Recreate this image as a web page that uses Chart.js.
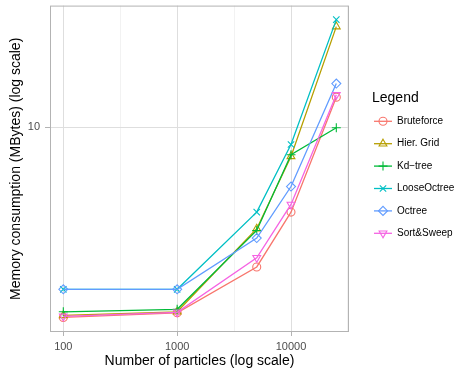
<!DOCTYPE html>
<html>
<head>
<meta charset="utf-8">
<script src="https://cdn.jsdelivr.net/npm/chart.js@4.4.1/dist/chart.umd.min.js"></script>
<style>
  html, body { margin: 0; padding: 0; background: #fff; }
  #wrap { width: 458px; height: 368px; position: relative; }
</style>
</head>
<body>
<div id="wrap"><canvas id="memChart" width="458" height="368"></canvas></div>
<script>
// data
var particles = [100, 1000, 5000, 10000, 25000];
var bruteforce = [4.01, 4.10, 5.11, 6.65, 11.55];
var hierGrid = [4.05, 4.12, 6.14, 8.69, 16.21];
var kdTree = [4.12, 4.17, 6.09, 8.76, 9.97];
var looseOctree = [4.59, 4.59, 6.65, 9.20, 16.76];
var octree = [4.59, 4.59, 5.87, 7.52, 12.33];
var sortSweep = [4.03, 4.11, 5.34, 6.90, 11.68];

var seriesNames = ["Bruteforce", "Hier. Grid", "Kd\u2212tree", "LooseOctree", "Octree", "Sort&Sweep"];
var seriesValues = [bruteforce, hierGrid, kdTree, looseOctree, octree, sortSweep];

var xMajorTicks = [100, 1000, 10000];
var xMinorTicks = [316.23, 3162.3, 31623];
var yMajorTicks = [10];

// ggplot hue palette + shapes 1..6
var colors = ["#F8766D", "#B79F00", "#00BA38", "#00BFC4", "#619CFF", "#F564E3"];
var shapes = ["circle", "triangle", "cross", "crossRot", "rectRot", "triangle"];
var rotations = [0, 0, 0, 0, 0, 180];
var radii = [4, 4.5, 4.5, 4.5, 4.5, 4.5];

var datasets = seriesNames.map(function (name, i) {
  return {
    label: name,
    data: particles.map(function (p, j) { return {x: p, y: seriesValues[i][j]}; }),
    borderColor: colors[i],
    backgroundColor: "rgba(0,0,0,0)",
    borderWidth: 1.3,
    pointStyle: shapes[i],
    pointRotation: rotations[i],
    pointRadius: radii[i],
    pointBorderWidth: 1.1,
    pointBorderColor: colors[i],
    pointBackgroundColor: "rgba(0,0,0,0)",
    tension: 0,
    order: seriesNames.length - i
  };
});

function isMajor(v, list) {
  return list.some(function (m) { return Math.abs(m - v) / m < 1e-6; });
}

// grey panel border like theme_light
var panelBorder = {
  id: "panelBorder",
  afterDraw: function (chart) {
    var a = chart.chartArea, ctx = chart.ctx;
    ctx.save();
    ctx.strokeStyle = "#b3b3b3";
    ctx.lineWidth = 1;
    ctx.strokeRect(a.left + 0.5, a.top + 0.5, a.right - a.left - 1, a.bottom - a.top - 1);
    ctx.restore();
  }
};

// ggplot style legend: line + point keys
var ggLegend = {
  id: "ggLegend",
  afterDraw: function (chart) {
    var ctx = chart.ctx;
    var x0 = 372, titleY = 98.5, rowY = 121.3, step = 22.4;
    ctx.save();
    ctx.fillStyle = "#000";
    ctx.textBaseline = "middle";
    ctx.textAlign = "left";
    ctx.font = "14px 'Liberation Sans', Arial, sans-serif";
    ctx.fillText("Legend", x0, titleY);
    chart.data.datasets.forEach(function (ds, i) {
      var y = rowY + i * step;
      ctx.strokeStyle = ds.borderColor;
      ctx.lineWidth = 1.3;
      ctx.beginPath();
      ctx.moveTo(374, y);
      ctx.lineTo(392, y);
      ctx.stroke();
      ctx.lineWidth = ds.pointBorderWidth;
      ctx.fillStyle = "rgba(0,0,0,0)";
      Chart.helpers.drawPoint(ctx, {
        pointStyle: ds.pointStyle,
        rotation: ds.pointRotation,
        radius: ds.pointRadius,
        borderWidth: ds.pointBorderWidth
      }, 383, y);
      ctx.fillStyle = "#000";
      ctx.font = "10px 'Liberation Sans', Arial, sans-serif";
      ctx.fillText(ds.label, 397, y);
    });
    ctx.restore();
  }
};

new Chart(document.getElementById("memChart").getContext("2d"), {
  type: "line",
  data: { datasets: datasets },
  plugins: [panelBorder, ggLegend],
  options: {
    responsive: false,
    animation: false,
    layout: { padding: { left: 8, right: 109, top: 5, bottom: 0 } },
    plugins: { legend: { display: false }, tooltip: { enabled: false } },
    scales: {
      x: {
        type: "logarithmic",
        min: 76.4,
        max: 32318,
        border: { display: false },
        afterBuildTicks: function (scale) {
          scale.ticks = xMajorTicks.concat(xMinorTicks).sort(function (a, b) { return a - b; })
            .map(function (v) { return {value: v}; });
        },
        afterFit: function (scale) {
          scale.height = 36;
          scale.paddingLeft = 0;
          scale.paddingRight = 0;
        },
        grid: {
          color: function (c) { return isMajor(c.tick.value, xMajorTicks) ? "#dedede" : "#ececec"; },
          lineWidth: function (c) { return isMajor(c.tick.value, xMajorTicks) ? 1 : 0.7; },
          tickColor: function (c) { return isMajor(c.tick.value, xMajorTicks) ? "#b3b3b3" : "rgba(0,0,0,0)"; },
          tickLength: 4
        },
        ticks: {
          autoSkip: false,
          maxRotation: 0,
          padding: 4,
          color: "#4d4d4d",
          font: { family: "'Liberation Sans', Arial, sans-serif", size: 11 },
          callback: function (v) { return isMajor(v, xMajorTicks) ? String(v) : ""; }
        },
        title: {
          display: true,
          text: "Number of particles (log scale)",
          color: "#000",
          padding: { top: 0, bottom: -1.5 },
          font: { family: "'Liberation Sans', Arial, sans-serif", size: 14 }
        }
      },
      y: {
        type: "logarithmic",
        min: 3.739,
        max: 17.93,
        border: { display: false },
        afterBuildTicks: function (scale) {
          scale.ticks = yMajorTicks.map(function (v) { return {value: v}; });
        },
        afterFit: function (scale) {
          scale.width = 42;
          scale.paddingTop = 0;
          scale.paddingBottom = 0;
        },
        grid: {
          color: "#dedede",
          lineWidth: 1,
          tickColor: "#b3b3b3",
          tickLength: 5
        },
        ticks: {
          padding: 5,
          color: "#4d4d4d",
          font: { family: "'Liberation Sans', Arial, sans-serif", size: 11 },
          callback: function (v) { return String(v); }
        },
        title: {
          display: true,
          text: "Memory consumption (MBytes) (log scale)",
          color: "#000",
          padding: 0,
          font: { family: "'Liberation Sans', Arial, sans-serif", size: 14 }
        }
      }
    }
  }
});
</script>
</body>
</html>
